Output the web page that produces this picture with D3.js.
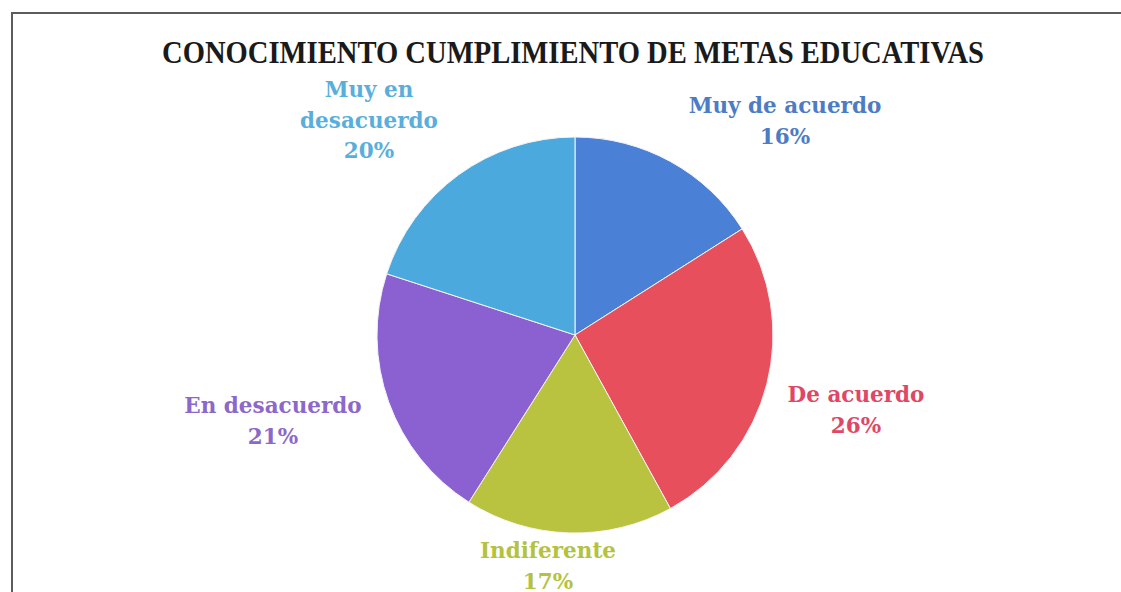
<!DOCTYPE html>
<html>
<head>
<meta charset="utf-8">
<script src="https://cdn.jsdelivr.net/npm/d3@7"></script>
<style>
  html, body { margin: 0; padding: 0; background: #fff; }
  svg { display: block; }
</style>
</head>
<body>
<svg id="chart" width="1121" height="592"></svg>
<script>
// Survey answers, clockwise from 12 o'clock
const categories = ["Muy de acuerdo", "De acuerdo", "Indiferente", "En desacuerdo", "Muy en desacuerdo"];
const values = [16, 26, 17, 21, 20];
const sliceColors = ["#4a80d6", "#e84f5c", "#b9c33f", "#8b60d1", "#4ba9de"];
const labelColors = ["#4c7cc4", "#de4766", "#b3c23f", "#8c68c9", "#5aaedb"];
// Label text lines per slice (the last one wraps onto two lines)
const labelLines = [["Muy de acuerdo"], ["De acuerdo"], ["Indiferente"], ["En desacuerdo"], ["Muy en", "desacuerdo"]];
const title = "CONOCIMIENTO CUMPLIMIENTO DE METAS EDUCATIVAS";

const svg = d3.select("#chart");
const W = 1121, H = 592;

// Chart area frame (runs off the right and bottom of the page)
svg.append("rect")
  .attr("x", 12).attr("y", 13)
  .attr("width", W + 40).attr("height", H + 40)
  .attr("fill", "none").attr("stroke", "#5c5c5c").attr("stroke-width", 2);

// Title
svg.append("text")
  .attr("x", 573).attr("y", 63)
  .attr("text-anchor", "middle")
  .attr("font-family", "Liberation Serif, serif")
  .attr("font-weight", "bold")
  .attr("font-size", 32)
  .attr("fill", "#1a1a1a")
  .attr("textLength", 822)
  .attr("lengthAdjust", "spacingAndGlyphs")
  .text(title);

const cx = 575, cy = 335, r = 198;
const pie = d3.pie().sort(null).value(d => d.value);
const arc = d3.arc().innerRadius(0).outerRadius(r);
const data = categories.map((c, i) => ({ cat: c, value: values[i], i }));
const arcs = pie(data);

const g = svg.append("g").attr("transform", `translate(${cx},${cy})`);
g.selectAll("path")
  .data(arcs)
  .join("path")
  .attr("d", arc)
  .attr("fill", d => sliceColors[d.data.i])
  .attr("stroke", "#f4f4f4")
  .attr("stroke-width", 1);

// Data label placement: centre x and first baseline, outside each slice
const labelAnchor = [[785, 113], [856, 402], [548, 558], [273, 413], [369, 97]];
const lineH = 30.5;
const labels = svg.append("g")
  .attr("font-family", "DejaVu Serif, serif")
  .attr("font-weight", "bold")
  .attr("font-size", 21.5)
  .attr("text-anchor", "middle");

arcs.forEach(a => {
  const i = a.data.i;
  const [x, y0] = labelAnchor[i];
  const lines = labelLines[i].concat([d3.format(".0%")(a.data.value / 100)]);
  const t = labels.append("text").attr("fill", labelColors[i]);
  lines.forEach((s, k) => {
    t.append("tspan").attr("x", x).attr("y", y0 + k * lineH).text(s);
  });
});
</script>
</body>
</html>
